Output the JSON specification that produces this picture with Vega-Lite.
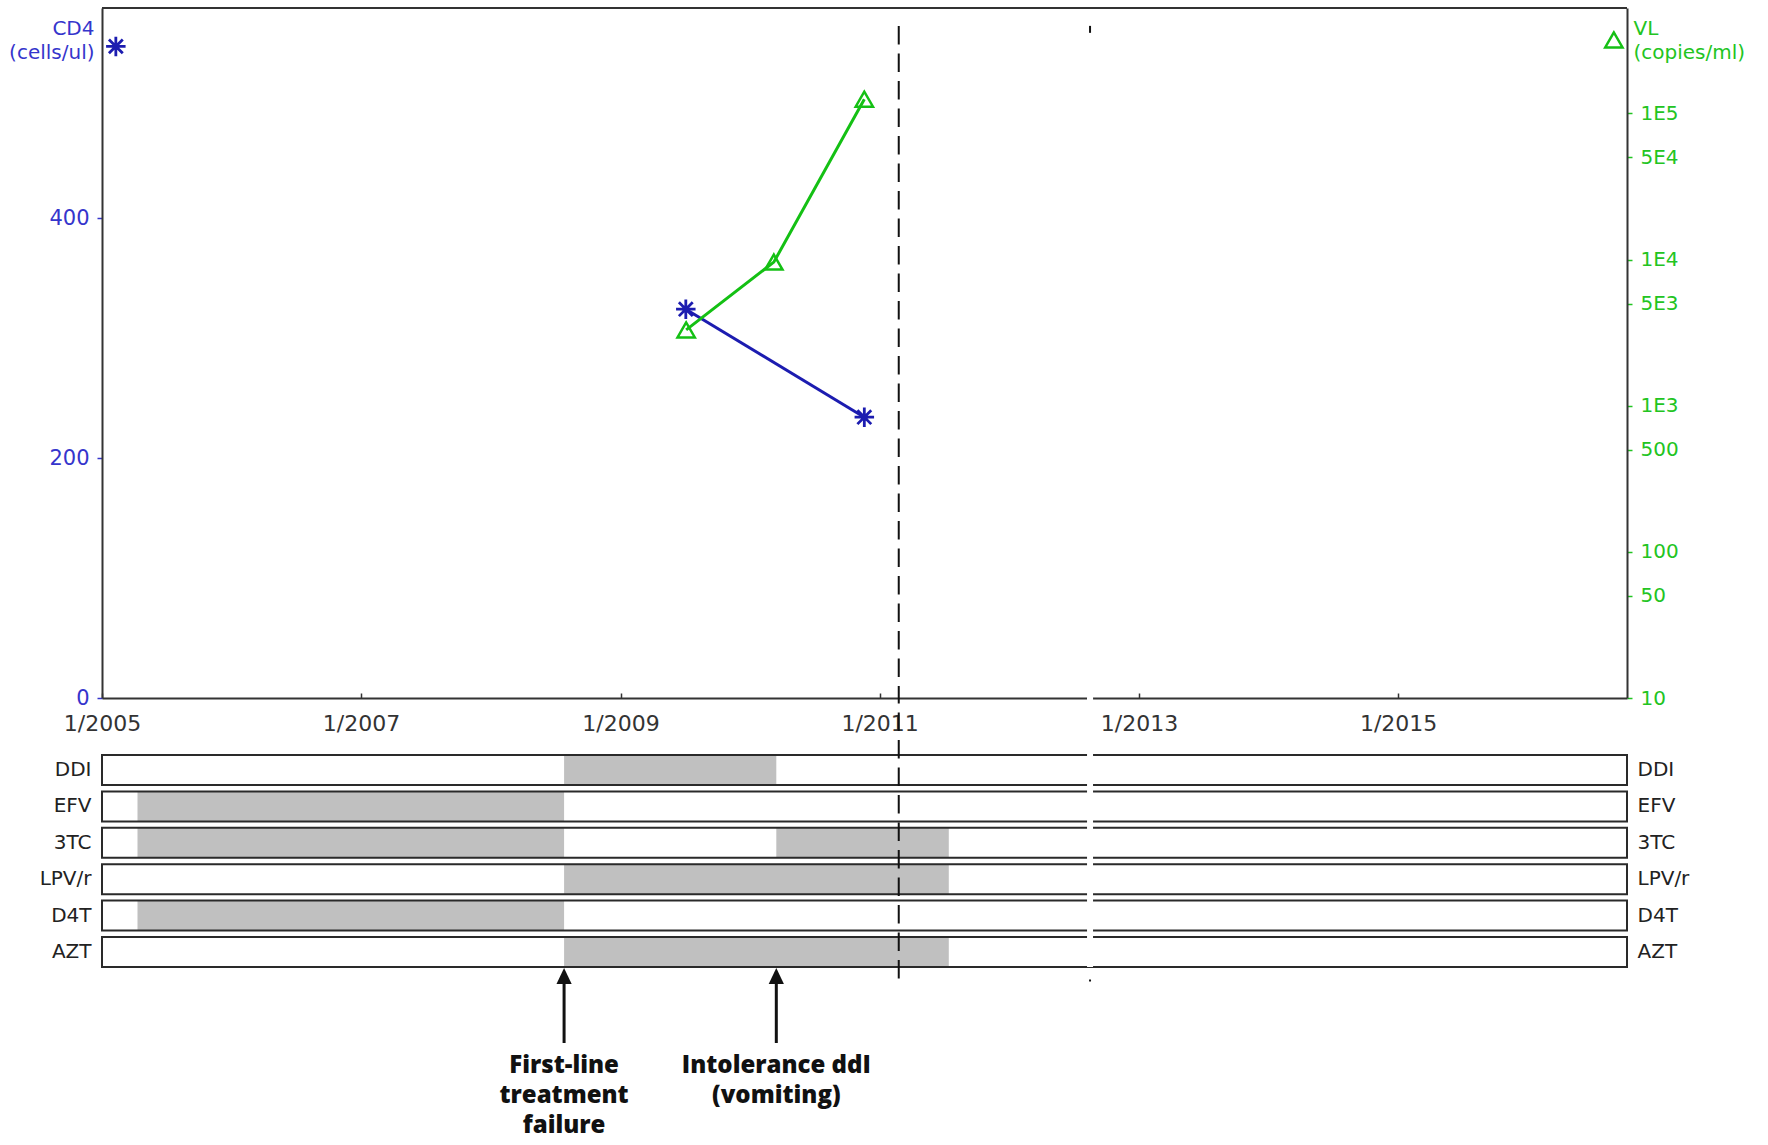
{
  "$schema": "https://vega.github.io/schema/vega-lite/v6.json",
  "padding": {"left": 8, "top": 7, "right": 10, "bottom": 0},
  "background": "white",
  "config": {"font": "DejaVu Sans", "view": {"stroke": null}, "axis": {"grid": false}},
  "bounds": "flush",
  "spacing": 0,
  "datasets": {
    "cd4": [
      {"date": "2009-07-04", "cd4": 324},
      {"date": "2010-11-19", "cd4": 234}
    ],
    "vl": [
      {"date": "2009-07-05", "vl": 3300},
      {"date": "2010-03-09", "vl": 9600},
      {"date": "2010-11-19", "vl": 125000}
    ],
    "keys": [
      {"series": "CD4", "date": "2005-02-09", "cd4": 543},
      {"series": "VL", "date": "2016-08-31", "vl": 318000}
    ],
    "events": [
      {"kind": "visit", "date": "2011-02-24"},
      {"kind": "break", "date": "2012-08-16"}
    ],
    "drugs": [
      {"drug": "DDI"}, {"drug": "EFV"}, {"drug": "3TC"}, {"drug": "LPV/r"}, {"drug": "D4T"}, {"drug": "AZT"}
    ],
    "regimen": [
      {"drug": "DDI", "start": "2008-07-26", "end": "2010-03-16"},
      {"drug": "EFV", "start": "2005-04-11", "end": "2008-07-26"},
      {"drug": "3TC", "start": "2005-04-11", "end": "2008-07-26"},
      {"drug": "3TC", "start": "2010-03-16", "end": "2011-07-15"},
      {"drug": "LPV/r", "start": "2008-07-26", "end": "2011-07-15"},
      {"drug": "D4T", "start": "2005-04-11", "end": "2008-07-26"},
      {"drug": "AZT", "start": "2008-07-26", "end": "2011-07-15"}
    ],
    "annotations": [
      {"date": "2008-07-26", "label": "First-line\ntreatment\nfailure"},
      {"date": "2010-03-16", "label": "Intolerance ddI\n(vomiting)"}
    ]
  },
  "vconcat": [
    {
      "width": 1525,
      "height": 690,
      "layer": [
        {
          "layer": [
            {
              "data": {"name": "cd4"},
              "mark": {"type": "line", "color": "#1c1cb0", "strokeWidth": 3},
              "encoding": {
                "x": {
                  "field": "date", "type": "temporal",
                  "scale": {"type": "utc", "domain": [{"year": 2005, "month": 1, "date": 1, "utc": true}, {"year": 2016, "month": 10, "date": 7, "utc": true}]},
                  "axis": {
                    "values": [
                      {"year": 2005, "month": 1, "date": 1, "utc": true},
                      {"year": 2007, "month": 1, "date": 1, "utc": true},
                      {"year": 2009, "month": 1, "date": 1, "utc": true},
                      {"year": 2011, "month": 1, "date": 1, "utc": true},
                      {"year": 2013, "month": 1, "date": 1, "utc": true},
                      {"year": 2015, "month": 1, "date": 1, "utc": true}
                    ],
                    "labelExpr": "'1/' + utcFormat(datum.value, '%Y')",
                    "title": null, "labelFontSize": 22, "labelColor": "#333333",
                    "tickColor": "#333333", "tickSize": -5, "tickWidth": 1.5, "labelPadding": 20,
                    "domainColor": "#333333", "domainWidth": 2, "labelFlush": false, "labelOverlap": false
                  }
                },
                "y": {
                  "field": "cd4", "type": "quantitative",
                  "scale": {"domain": [0, 575], "nice": false},
                  "axis": {
                    "orient": "left", "values": [0, 200, 400],
                    "title": ["CD4", "(cells/ul)"], "titleAngle": 0, "titleAlign": "right", "titleBaseline": "alphabetic",
                    "titleX": -8, "titleY": 26.5, "titleLineHeight": 24, "titleFontSize": 20, "titleFontWeight": "normal",
                    "titleColor": "#3535cc", "labelColor": "#3535cc", "labelFontSize": 21,
                    "tickColor": "#3535cc", "tickSize": 5, "tickWidth": 1.5, "labelPadding": 8,
                    "domainColor": "#333333", "domainWidth": 2
                  }
                }
              }
            },
            {
              "data": {"values": [{}]},
              "mark": {"type": "rule", "color": "#333333", "strokeWidth": 2},
              "encoding": {"y": {"datum": 575, "type": "quantitative", "scale": {"domain": [0, 575], "nice": false}}}
            },
            {
              "data": {"name": "events"},
              "transform": [{"filter": "datum.kind === 'visit'"}],
              "mark": {"type": "rule", "color": "#111111", "strokeWidth": 2, "strokeDash": [18.5, 9]},
              "encoding": {
                "x": {"field": "date", "type": "temporal", "scale": {"type": "utc", "domain": [{"year": 2005, "month": 1, "date": 1, "utc": true}, {"year": 2016, "month": 10, "date": 7, "utc": true}]}},
                "y": {"datum": 560.1, "type": "quantitative", "scale": {"domain": [0, 575], "nice": false}},
                "y2": {"datum": 0}
              }
            },
            {
              "data": {"name": "events"},
              "transform": [{"filter": "datum.kind === 'break'"}],
              "mark": {"type": "rule", "color": "white", "strokeWidth": 6},
              "encoding": {
                "x": {"field": "date", "type": "temporal", "scale": {"type": "utc", "domain": [{"year": 2005, "month": 1, "date": 1, "utc": true}, {"year": 2016, "month": 10, "date": 7, "utc": true}]}},
                "y": {"datum": 554, "type": "quantitative", "scale": {"domain": [0, 575], "nice": false}},
                "y2": {"datum": -3}
              }
            },
            {
              "data": {"name": "events"},
              "transform": [{"filter": "datum.kind === 'break'"}],
              "mark": {"type": "rule", "color": "#111111", "strokeWidth": 2},
              "encoding": {
                "x": {"field": "date", "type": "temporal", "scale": {"type": "utc", "domain": [{"year": 2005, "month": 1, "date": 1, "utc": true}, {"year": 2016, "month": 10, "date": 7, "utc": true}]}},
                "y": {"datum": 560.1, "type": "quantitative", "scale": {"domain": [0, 575], "nice": false}},
                "y2": {"datum": 554.3}
              }
            },
            {
              "data": {"name": "cd4"},
              "mark": {"type": "point", "shape": "M0,-1L0,1M-1,0L1,0M-0.71,-0.71L0.71,0.71M-0.71,0.71L0.71,-0.71", "filled": false, "color": "#1c1cb0", "strokeWidth": 2.8, "size": 380, "opacity": 1},
              "encoding": {
                "x": {"field": "date", "type": "temporal", "scale": {"type": "utc", "domain": [{"year": 2005, "month": 1, "date": 1, "utc": true}, {"year": 2016, "month": 10, "date": 7, "utc": true}]}},
                "y": {"field": "cd4", "type": "quantitative", "scale": {"domain": [0, 575], "nice": false}}
              }
            },
            {
              "data": {"name": "keys"},
              "transform": [{"filter": "datum.series === 'CD4'"}],
              "mark": {"type": "point", "shape": "M0,-1L0,1M-1,0L1,0M-0.71,-0.71L0.71,0.71M-0.71,0.71L0.71,-0.71", "filled": false, "color": "#1c1cb0", "strokeWidth": 2.8, "size": 380, "opacity": 1},
              "encoding": {
                "x": {"field": "date", "type": "temporal", "scale": {"type": "utc", "domain": [{"year": 2005, "month": 1, "date": 1, "utc": true}, {"year": 2016, "month": 10, "date": 7, "utc": true}]}},
                "y": {"field": "cd4", "type": "quantitative", "scale": {"domain": [0, 575], "nice": false}}
              }
            }
          ]
        },
        {
          "layer": [
            {
              "data": {"name": "vl"},
              "mark": {"type": "line", "color": "#14c014", "strokeWidth": 3},
              "encoding": {
                "x": {
                  "field": "date", "type": "temporal",
                  "scale": {"type": "utc", "domain": [{"year": 2005, "month": 1, "date": 1, "utc": true}, {"year": 2016, "month": 10, "date": 7, "utc": true}]},
                  "axis": {
                    "values": [
                      {"year": 2005, "month": 1, "date": 1, "utc": true},
                      {"year": 2007, "month": 1, "date": 1, "utc": true},
                      {"year": 2009, "month": 1, "date": 1, "utc": true},
                      {"year": 2011, "month": 1, "date": 1, "utc": true},
                      {"year": 2013, "month": 1, "date": 1, "utc": true},
                      {"year": 2015, "month": 1, "date": 1, "utc": true}
                    ],
                    "labelExpr": "'1/' + utcFormat(datum.value, '%Y')",
                    "title": null, "labelFontSize": 22, "labelColor": "#333333",
                    "tickColor": "#333333", "tickSize": -5, "tickWidth": 1.5, "labelPadding": 20,
                    "domainColor": "#333333", "domainWidth": 2, "labelFlush": false, "labelOverlap": false
                  }
                },
                "y": {
                  "field": "vl", "type": "quantitative",
                  "scale": {"type": "log", "domain": [10, 526000], "nice": false},
                  "axis": {
                    "orient": "right", "values": [10, 50, 100, 500, 1000, 5000, 10000, 50000, 100000],
                    "labelExpr": "datum.value == 1000 ? '1E3' : datum.value == 5000 ? '5E3' : datum.value == 10000 ? '1E4' : datum.value == 50000 ? '5E4' : datum.value == 100000 ? '1E5' : format(datum.value, 'd')",
                    "title": ["VL", "(copies/ml)"], "titleAngle": 0, "titleAlign": "left", "titleBaseline": "alphabetic",
                    "titleX": 6, "titleY": 26.5, "titleLineHeight": 24, "titleFontSize": 20, "titleFontWeight": "normal",
                    "titleColor": "#22c422", "labelColor": "#22c422", "labelFontSize": 20,
                    "tickColor": "#22c422", "tickSize": 5, "tickWidth": 1.5, "labelPadding": 8,
                    "domainColor": "#333333", "domainWidth": 2
                  }
                }
              }
            },
            {
              "data": {"name": "vl"},
              "mark": {"type": "point", "shape": "triangle-up", "filled": false, "color": "#14c014", "strokeWidth": 2.5, "size": 300, "opacity": 1},
              "encoding": {
                "x": {"field": "date", "type": "temporal", "scale": {"type": "utc", "domain": [{"year": 2005, "month": 1, "date": 1, "utc": true}, {"year": 2016, "month": 10, "date": 7, "utc": true}]}},
                "y": {"field": "vl", "type": "quantitative", "scale": {"type": "log", "domain": [10, 526000], "nice": false}}
              }
            },
            {
              "data": {"name": "keys"},
              "transform": [{"filter": "datum.series === 'VL'"}],
              "mark": {"type": "point", "shape": "triangle-up", "filled": false, "color": "#14c014", "strokeWidth": 2.5, "size": 300, "opacity": 1},
              "encoding": {
                "x": {"field": "date", "type": "temporal", "scale": {"type": "utc", "domain": [{"year": 2005, "month": 1, "date": 1, "utc": true}, {"year": 2016, "month": 10, "date": 7, "utc": true}]}},
                "y": {"field": "vl", "type": "quantitative", "scale": {"type": "log", "domain": [10, 526000], "nice": false}}
              }
            }
          ]
        }
      ],
      "resolve": {"scale": {"y": "independent"}}
    },
    {
      "width": 1525,
      "height": 269,
      "layer": [
        {
          "data": {"name": "drugs"},
          "mark": {"type": "rect", "fill": "white"},
          "encoding": {
            "x": {"datum": {"year": 2005, "month": 1, "date": 1, "utc": true}, "type": "temporal", "scale": {"type": "utc", "domain": [{"year": 2005, "month": 1, "date": 1, "utc": true}, {"year": 2016, "month": 10, "date": 7, "utc": true}]}, "axis": null},
            "x2": {"datum": {"year": 2016, "month": 10, "date": 7, "utc": true}},
            "y": {
              "field": "drug", "type": "nominal",
              "scale": {"type": "band", "domain": ["DDI", "EFV", "3TC", "LPV/r", "D4T", "AZT"], "paddingInner": 0.176, "paddingOuter": 0.783, "align": 1},
              "axis": {"orient": "left", "domain": false, "ticks": false, "title": null, "labelFontSize": 20, "labelColor": "#222222", "labelPadding": 11}
            }
          }
        },
        {
          "data": {"name": "regimen"},
          "mark": {"type": "rect", "fill": "#c0c0c0"},
          "encoding": {
            "x": {"field": "start", "type": "temporal", "scale": {"type": "utc", "domain": [{"year": 2005, "month": 1, "date": 1, "utc": true}, {"year": 2016, "month": 10, "date": 7, "utc": true}]}, "axis": null},
            "x2": {"field": "end"},
            "y": {"field": "drug", "type": "nominal", "scale": {"type": "band", "domain": ["DDI", "EFV", "3TC", "LPV/r", "D4T", "AZT"], "paddingInner": 0.176, "paddingOuter": 0.783, "align": 1}, "axis": null}
          }
        },
        {
          "data": {"name": "drugs"},
          "mark": {"type": "rect", "fill": "white", "fillOpacity": 0, "stroke": "#2a2a2a", "strokeWidth": 2},
          "encoding": {
            "x": {"datum": {"year": 2005, "month": 1, "date": 1, "utc": true}, "type": "temporal", "scale": {"type": "utc", "domain": [{"year": 2005, "month": 1, "date": 1, "utc": true}, {"year": 2016, "month": 10, "date": 7, "utc": true}]}, "axis": null},
            "x2": {"datum": {"year": 2016, "month": 10, "date": 7, "utc": true}},
            "y": {
              "field": "drug", "type": "nominal",
              "scale": {"type": "band", "domain": ["DDI", "EFV", "3TC", "LPV/r", "D4T", "AZT"], "paddingInner": 0.176, "paddingOuter": 0.783, "align": 1},
              "axis": {"orient": "right", "domain": false, "ticks": false, "title": null, "labelFontSize": 20, "labelColor": "#222222", "labelPadding": 10}
            }
          }
        },
        {
          "data": {"name": "events"},
          "transform": [{"filter": "datum.kind === 'visit'"}],
          "mark": {"type": "rule", "color": "#111111", "strokeWidth": 2, "strokeDash": [18.5, 9], "strokeDashOffset": 13},
          "encoding": {
            "x": {"field": "date", "type": "temporal", "scale": {"type": "utc", "domain": [{"year": 2005, "month": 1, "date": 1, "utc": true}, {"year": 2016, "month": 10, "date": 7, "utc": true}]}, "axis": null}
          }
        },
        {
          "data": {"name": "events"},
          "transform": [{"filter": "datum.kind === 'break'"}],
          "mark": {"type": "rule", "color": "white", "strokeWidth": 6},
          "encoding": {
            "x": {"field": "date", "type": "temporal", "scale": {"type": "utc", "domain": [{"year": 2005, "month": 1, "date": 1, "utc": true}, {"year": 2016, "month": 10, "date": 7, "utc": true}]}, "axis": null}
          }
        }
      ],
      "resolve": {"axis": {"y": "independent"}}
    },
    {
      "width": 1525,
      "height": 178,
      "layer": [
        {
          "data": {"name": "annotations"},
          "mark": {"type": "rule", "color": "#111111", "strokeWidth": 3},
          "encoding": {
            "x": {"field": "date", "type": "temporal", "scale": {"type": "utc", "domain": [{"year": 2005, "month": 1, "date": 1, "utc": true}, {"year": 2016, "month": 10, "date": 7, "utc": true}]}, "axis": null},
            "y": {"datum": 15, "type": "quantitative", "scale": {"domain": [0, 178], "reverse": true, "nice": false, "zero": false}, "axis": null},
            "y2": {"datum": 76}
          }
        },
        {
          "data": {"name": "annotations"},
          "mark": {"type": "point", "shape": "M0,-1L0.95,1L-0.95,1Z", "filled": true, "color": "#111111", "size": 256, "opacity": 1, "strokeWidth": 0},
          "encoding": {
            "x": {"field": "date", "type": "temporal", "scale": {"type": "utc", "domain": [{"year": 2005, "month": 1, "date": 1, "utc": true}, {"year": 2016, "month": 10, "date": 7, "utc": true}]}, "axis": null},
            "y": {"datum": 9, "type": "quantitative", "scale": {"domain": [0, 178], "reverse": true, "nice": false, "zero": false}, "axis": null}
          }
        },
        {
          "data": {"name": "annotations"},
          "mark": {"type": "text", "font": "Open Sans", "fontWeight": 800, "fontSize": 24, "baseline": "top", "align": "center", "lineBreak": "\n", "lineHeight": 30, "color": "#111111"},
          "encoding": {
            "x": {"field": "date", "type": "temporal", "scale": {"type": "utc", "domain": [{"year": 2005, "month": 1, "date": 1, "utc": true}, {"year": 2016, "month": 10, "date": 7, "utc": true}]}, "axis": null},
            "y": {"datum": 87, "type": "quantitative", "scale": {"domain": [0, 178], "reverse": true, "nice": false, "zero": false}, "axis": null},
            "text": {"field": "label"}
          }
        },
        {
          "data": {"name": "events"},
          "transform": [{"filter": "datum.kind === 'visit'"}],
          "mark": {"type": "rule", "color": "#111111", "strokeWidth": 2, "strokeDash": [18.5, 9], "strokeDashOffset": 7},
          "encoding": {
            "x": {"field": "date", "type": "temporal", "scale": {"type": "utc", "domain": [{"year": 2005, "month": 1, "date": 1, "utc": true}, {"year": 2016, "month": 10, "date": 7, "utc": true}]}, "axis": null},
            "y": {"datum": 0, "type": "quantitative", "scale": {"domain": [0, 178], "reverse": true, "nice": false, "zero": false}, "axis": null},
            "y2": {"datum": 14}
          }
        },
        {
          "data": {"name": "events"},
          "transform": [{"filter": "datum.kind === 'break'"}],
          "mark": {"type": "rule", "color": "#111111", "strokeWidth": 2},
          "encoding": {
            "x": {"field": "date", "type": "temporal", "scale": {"type": "utc", "domain": [{"year": 2005, "month": 1, "date": 1, "utc": true}, {"year": 2016, "month": 10, "date": 7, "utc": true}]}, "axis": null},
            "y": {"datum": 12.5, "type": "quantitative", "scale": {"domain": [0, 178], "reverse": true, "nice": false, "zero": false}, "axis": null},
            "y2": {"datum": 14.5}
          }
        }
      ]
    }
  ]
}
